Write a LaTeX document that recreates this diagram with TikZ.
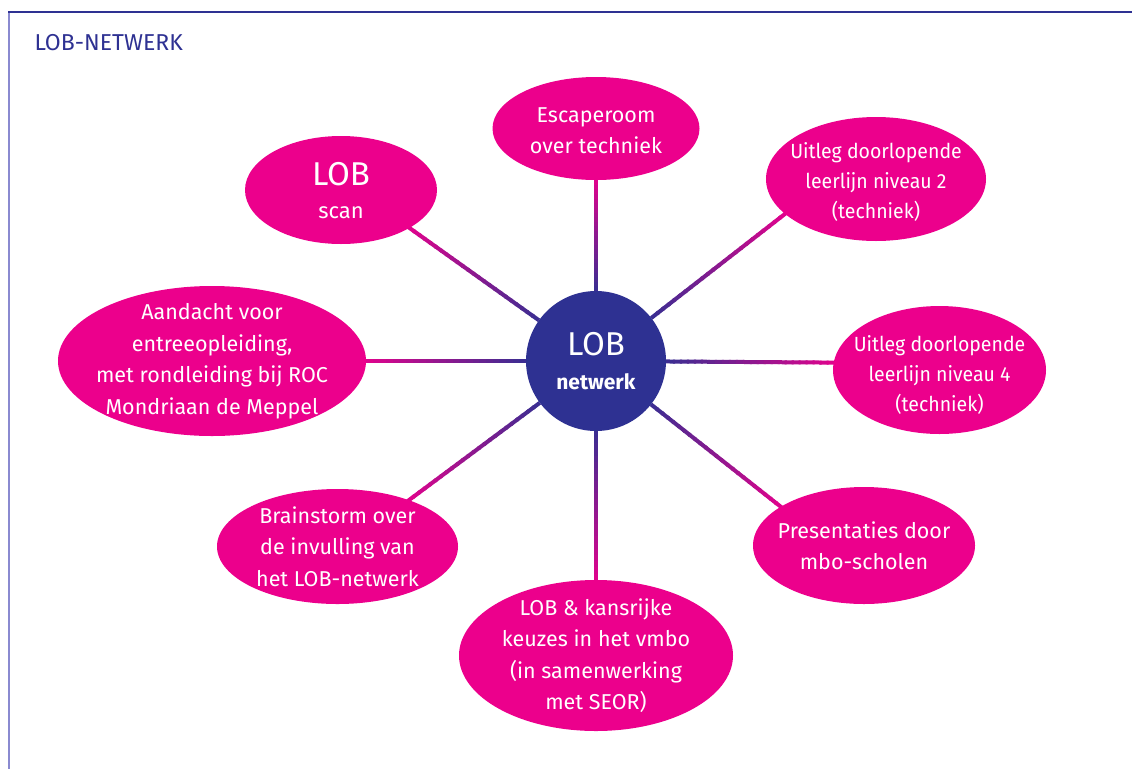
\documentclass[tikz,border=0pt]{standalone}
\usepackage{fontspec}
\setmainfont{Fira Sans}
\newfontfamily\narrowfont[FakeStretch=0.95]{Fira Sans}
\usetikzlibrary{shapes.geometric,calc,backgrounds}
\definecolor{pinkc}{HTML}{EC008C}
\definecolor{bluec}{HTML}{2E3192}
\definecolor{framel}{HTML}{8A8AD0}
\newcommand\gradconn[2]{%
  \foreach \i in {0,...,23} {
    \pgfmathsetmacro\ga{\i/24}
    \pgfmathsetmacro\gb{(\i+1.3)/24}
    \pgfmathtruncatemacro\gp{8+84*\i/23}
    \draw[line width=4pt, color=pinkc!\gp!bluec] ($(#1)!\ga!(#2)$) -- ($(#1)!\gb!(#2)$);
  }}
\begin{document}
\begin{tikzpicture}[x=1pt,y=-1pt,
  bubble/.style={ellipse, fill=pinkc, inner sep=0pt},
  btext/.style={text=white, inner sep=0pt, align=center,
    font=\fontsize{21.5}{31.5}\selectfont},
  ntext/.style={btext, font=\narrowfont\fontsize{20.5}{30}\selectfont},
  hub/.style={circle, fill=bluec, text=white, inner sep=0pt, minimum size=140pt, align=center,
    font=\fontsize{21}{35}\selectfont}]
\useasboundingbox (0,0) rectangle (1132,769);
% frame
\draw[framel, line width=1.5pt] (9,12) -- (9,769);
\draw[bluec, line width=1.3pt] (8,12) -- (1132,12);
\node[anchor=west, text=bluec, font=\fontsize{23}{26}\selectfont] (title) at (31,43) {LOB-NETWERK};
% hub
\node[hub] (c) at (596,361) {{\fontsize{33}{36}\selectfont LOB}\\[-1pt]\textbf{netwerk}};
% bubbles
\node[bubble, minimum width=207pt, minimum height=103pt] (e1) at (596,128.5) {};
\node[bubble, minimum width=192pt, minimum height=108pt] (e2) at (341,190) {};
\node[bubble, minimum width=220pt, minimum height=124pt] (e3) at (876,179) {};
\node[bubble, minimum width=308pt, minimum height=150pt] (e4) at (212,361) {};
\node[bubble, minimum width=213pt, minimum height=128pt] (e5) at (939.5,370) {};
\node[bubble, minimum width=241pt, minimum height=115pt] (e6) at (337.5,546.5) {};
\node[bubble, minimum width=222pt, minimum height=117pt] (e7) at (864,545.5) {};
\node[bubble, minimum width=274pt, minimum height=151pt] (e8) at (596,655.5) {};
% bubble texts
\node[btext] (l1) at ([yshift=-2pt]e1.center) {Escaperoom\\over techniek};
\node[btext, font=\fontsize{22}{33}\selectfont] (l2) at ([yshift=-1pt]e2.center) {{\fontsize{33}{36}\selectfont LOB}\\scan};
\node[ntext] (l3) at ([yshift=-3pt]e3.center) {Uitleg doorlopende\\leerlijn niveau 2\\(techniek)};
\node[btext] (l4) at (e4.center) {Aandacht voor\\entreeopleiding,\\met rondleiding bij ROC\\Mondriaan de Meppel};
\node[ntext] (l5) at ([yshift=-5pt]e5.center) {Uitleg doorlopende\\leerlijn niveau 4\\(techniek)};
\node[btext] (l6) at (e6.center) {Brainstorm over\\de invulling van\\het LOB-netwerk};
\node[btext] (l7) at (e7.center) {Presentaties door\\mbo-scholen};
\node[btext] (l8) at (e8.center) {LOB \& kansrijke\\keuzes in het vmbo\\(in samenwerking\\met SEOR)};
% connectors
\begin{pgfonlayer}{background}
\coordinate (t1) at (e1.270);
\coordinate (t2) at (e2.331);
\coordinate (t3) at (e3.201);
\coordinate (t4) at (e4.0);
\coordinate (t5) at (e5.176);
\coordinate (t6) at (e6.33);
\coordinate (t7) at (e7.155);
\coordinate (t8) at (e8.90);
\foreach \k in {1,...,8} {
  \coordinate (s\k) at ($(c.center)!70pt!(t\k)$);
  \gradconn{s\k}{t\k}
}
\end{pgfonlayer}
\end{tikzpicture}
\end{document}
